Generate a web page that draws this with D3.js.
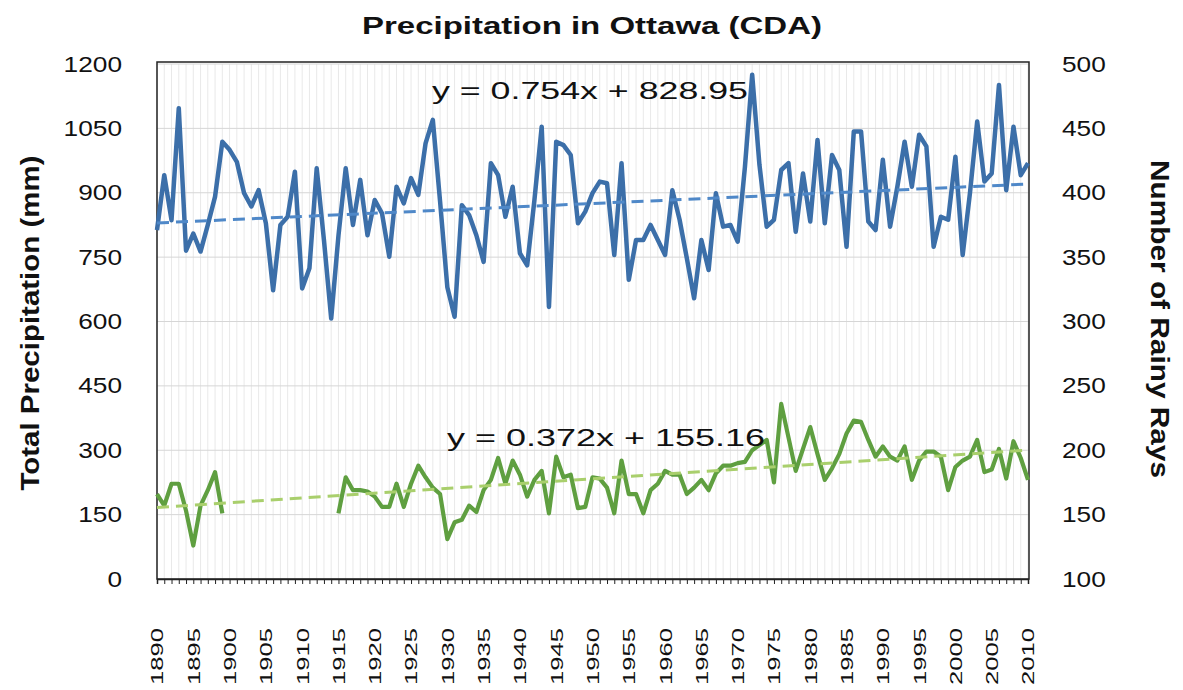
<!DOCTYPE html>
<html><head><meta charset="utf-8">
<script src="https://cdn.jsdelivr.net/npm/d3@7"></script>
<style>body{margin:0;background:#fff} svg{display:block}</style>
</head><body><svg id="c" width="1183" height="690"></svg>
<script>
const years = d3.range(1890, 2011);
const precipitation = [
  813, 941, 836, 1097, 765, 805, 763, 825, 891, 1019,
  1000, 972, 899, 868, 906, 829, 673, 825, 844, 949,
  677, 724, 957, 790, 607, 800, 957, 825, 930, 801,
  883, 852, 751, 914, 875, 934, 895, 1015, 1070, 880,
  680, 611, 871, 848, 801, 739, 969, 941, 844, 914,
  759, 731, 883, 1054, 634, 1019, 1011, 988, 829, 856,
  899, 926, 922, 755, 969, 697, 790, 790, 825, 790,
  755, 906, 837, 747, 654, 790, 720, 899, 821, 825,
  786, 960, 1175, 965, 821, 837, 953, 969, 809, 945,
  833, 1023, 829, 988, 953, 774, 1043, 1043, 833, 813,
  977, 821, 914, 1019, 914, 1035, 1008, 774, 844, 837,
  984, 755, 899, 1066, 926, 945, 1151, 906, 1054, 941,
  969
];
const rainyDays = [
  166, 157, 174, 174, 153, 126, 157, 169, 183, 151,
  null, null, null, null, null, null, null, null, null, null,
  null, null, null, null, null, 151, 179, 169, 169, 168,
  164, 156, 156, 174, 156, 174, 188, 179, 171, 166,
  131, 144, 146, 157, 152, 169, 177, 194, 174, 192,
  181, 164, 177, 184, 151, 195, 179, 181, 155, 156,
  179, 178, 171, 151, 192, 166, 166, 151, 169, 174,
  184, 181, 181, 166, 171, 177, 169, 182, 188, 188,
  190, 191, 200, 204, 208, 175, 236, 210, 184, 201,
  218, 197, 177, 186, 197, 213, 223, 222, 208, 195,
  203, 195, 192, 203, 177, 192, 199, 199, 195, 169,
  187, 192, 195, 208, 183, 185, 201, 178, 207, 194,
  177
];
const leftTicks = [0, 150, 300, 450, 600, 750, 900, 1050, 1200];
const rightTicks = [100, 150, 200, 250, 300, 350, 400, 450, 500];
const yearLabels = [1890,1895,1900,1905,1910,1915,1920,1925,1930,1935,1940,1945,1950,1955,1960,1965,1970,1975,1980,1985,1990,1995,2000,2005,2010];
const trendPrecip = [0.754, 828.95];
const trendDays = [0.372, 155.16];
const eqLabels = ["y = 0.754x + 828.95", "y = 0.372x + 155.16"];
const titleText = "Precipitation in Ottawa (CDA)";
const leftTitle = "Total Precipitation (mm)";
const rightTitle = "Number of Rainy Rays";

const svg = d3.select("#c");
const L = 157, R = 1029, T = 64, B = 579;
const x = d3.scaleLinear().domain([1890, 2010]).range([L, R - 1]);
const yL = d3.scaleLinear().domain([0, 1200]).range([B, T]);
const yR = d3.scaleLinear().domain([100, 500]).range([B, T]);
const FONT = "'Liberation Sans', Arial, Helvetica, sans-serif";
const fmt = d3.format("d");

// vertical grid
svg.append("g").selectAll("line").data(years).join("line")
  .attr("x1", d => x(d)).attr("x2", d => x(d)).attr("y1", T).attr("y2", B)
  .attr("stroke", "#e9e9e9").attr("stroke-width", 1);
// horizontal grid
svg.append("g").selectAll("line").data(leftTicks.slice(1)).join("line")
  .attr("x1", L).attr("x2", R).attr("y1", d => yL(d)).attr("y2", d => yL(d))
  .attr("stroke", "#d6d6d6").attr("stroke-width", 1);

// frame
svg.append("rect").attr("x", L).attr("y", T - 2).attr("width", R - L).attr("height", B - T + 2)
  .attr("fill", "none").attr("stroke", "#222").attr("stroke-width", 1.5);

// bottom axis
const gx = svg.append("g").attr("transform", `translate(0,${B})`)
  .call(d3.axisBottom(x).tickValues(years).tickSize(5)
    .tickFormat(d => yearLabels.includes(d) ? fmt(d) : ""));
gx.select(".domain").attr("stroke", "#222").attr("stroke-width", 1.5);
gx.selectAll(".tick line").attr("stroke", "#222");
gx.selectAll(".tick text")
  .attr("y", null).attr("dy", "0.35em")
  .attr("transform", "translate(0,49) rotate(-90)")
  .attr("text-anchor", "end")
  .attr("font-family", FONT).attr("font-size", 17).attr("fill", "#111")
  .each(function(d){ if (yearLabels.includes(d)) d3.select(this).attr("textLength", 57).attr("lengthAdjust", "spacingAndGlyphs"); });

// left axis
const gl = svg.append("g").attr("transform", `translate(${L},0)`)
  .call(d3.axisLeft(yL).tickValues(leftTicks).tickFormat(fmt).tickSize(0).tickPadding(35));
gl.select(".domain").remove();
gl.selectAll(".tick text").attr("font-family", FONT).attr("font-size", 22).attr("fill", "#111")
  .each(function(d){ const n = fmt(d).length; d3.select(this).attr("textLength", n * 14.6).attr("lengthAdjust", "spacingAndGlyphs"); });

// right axis
const gr = svg.append("g").attr("transform", `translate(${R},0)`)
  .call(d3.axisRight(yR).tickValues(rightTicks).tickFormat(fmt).tickSize(0).tickPadding(33));
gr.select(".domain").remove();
gr.selectAll(".tick text").attr("font-family", FONT).attr("font-size", 22).attr("fill", "#111")
  .each(function(d){ const n = fmt(d).length; d3.select(this).attr("textLength", n * 14.6).attr("lengthAdjust", "spacingAndGlyphs"); });

// series
const lineL = d3.line().x((d, i) => x(years[i])).y(d => yL(d));
const lineR = d3.line().defined(d => d != null).x((d, i) => x(years[i])).y(d => yR(d));
svg.append("path").datum(rainyDays).attr("d", lineR)
  .attr("fill", "none").attr("stroke", "#5f9f40").attr("stroke-width", 4.2)
  .attr("stroke-linejoin", "round");
svg.append("path").datum(precipitation).attr("d", lineL)
  .attr("fill", "none").attr("stroke", "#3c6fa9").attr("stroke-width", 4.5)
  .attr("stroke-linejoin", "round");

// trendlines (x = 1..121)
const ends = [years[0], years[years.length - 1]];
const tline = (coef, scale) => ends.map(yr => [x(yr), scale(coef[0] * (yr - years[0] + 1) + coef[1])]);
svg.append("path").attr("d", d3.line()(tline(trendPrecip, yL)))
  .attr("stroke", "#4f88c8").attr("stroke-width", 3).attr("stroke-dasharray", "12,7").attr("fill", "none");
svg.append("path").attr("d", d3.line()(tline(trendDays, yR)))
  .attr("stroke", "#a9cf6c").attr("stroke-width", 3).attr("stroke-dasharray", "12,7").attr("fill", "none");

// equations
svg.append("text").attr("x", 432).attr("y", 99).text(eqLabels[0])
  .attr("font-family", FONT).attr("font-size", 23).attr("fill", "#111")
  .attr("textLength", 316).attr("lengthAdjust", "spacingAndGlyphs");
svg.append("text").attr("x", 447).attr("y", 446).text(eqLabels[1])
  .attr("font-family", FONT).attr("font-size", 23).attr("fill", "#111")
  .attr("textLength", 318).attr("lengthAdjust", "spacingAndGlyphs");

// titles
svg.append("text").attr("x", 592).attr("y", 34).attr("text-anchor", "middle").text(titleText)
  .attr("font-family", FONT).attr("font-weight", "bold").attr("font-size", 24).attr("fill", "#111")
  .attr("textLength", 460).attr("lengthAdjust", "spacingAndGlyphs");
svg.append("text").attr("transform", "translate(39,323) rotate(-90)").attr("text-anchor", "middle").text(leftTitle)
  .attr("font-family", FONT).attr("font-weight", "bold").attr("font-size", 26).attr("fill", "#111")
  .attr("textLength", 335).attr("lengthAdjust", "spacingAndGlyphs");
svg.append("text").attr("transform", "translate(1151,319) rotate(90)").attr("text-anchor", "middle").text(rightTitle)
  .attr("font-family", FONT).attr("font-weight", "bold").attr("font-size", 26).attr("fill", "#111")
  .attr("textLength", 318).attr("lengthAdjust", "spacingAndGlyphs");
</script></body></html>
